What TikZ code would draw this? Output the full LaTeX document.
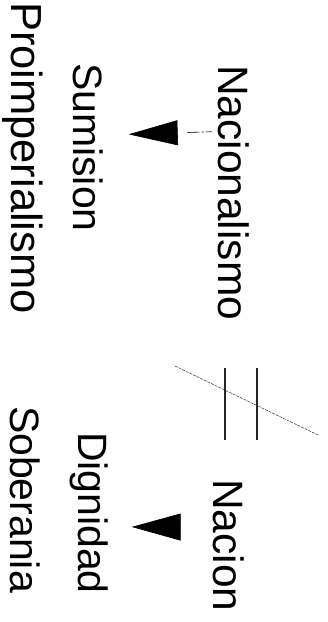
\documentclass[tikz,border=0pt]{standalone}
\usepackage{fontspec}
\setmainfont{Liberation Sans}
\usetikzlibrary{arrows.meta}

\begin{document}
\begin{tikzpicture}[x=1pt, y=1pt,
                    word/.style={rotate=-90, inner sep=0pt, outer sep=0pt, anchor=base west,
                                 font=\fontsize{41}{49}\selectfont},
                    bigword/.style={word, font=\fontsize{42.5}{50}\selectfont},
                    bigtip/.style={-{Triangle[length=49pt, width=25pt]}, line width=0.6pt},
                    slash/.style={line width=0.5pt, black!80, dash pattern=on 3pt off 1pt}]

    \useasboundingbox (0,0) rectangle (328,-622);

    % oberer Block
    \node[bigword] (nacionalismo) at (218,-65) {Nacionalismo};
    \node[word] (sumision)        at (73,-63)  {Sumision};
    \node[word, font=\fontsize{43.5}{52}\selectfont]
                (proimperialismo) at (11,-2)   {Proimperialismo};

    % unterer Block
    \node[bigword] (nacion) at (213,-479) {Nacion};
    \node[word] (dignidad)  at (78,-432)  {Dignidad};
    \node[word] (soberania) at (10,-406)  {Soberania};

    % Pfeile nach links
    \draw[bigtip, shorten <=6pt, dash pattern=on 6pt off 2pt on 2pt off 2pt on 12pt off 30pt]
        ([yshift=61pt]nacionalismo.south) -- ([xshift=26pt, yshift=13pt]sumision.north);
    \draw[bigtip, -{Triangle[length=49pt, width=27pt]}, shorten <=32pt]
        ([yshift=18pt]nacion.south) -- ([xshift=24pt, yshift=-14pt]dignidad.north);

    % Ungleichheitszeichen
    \coordinate (eqa) at (225,-368);
    \coordinate (eqb) at (257,-368);
    \draw[line width=1.2pt, black!85] (eqa) -- ++(0,-72);
    \draw[line width=1.2pt, black!85] (eqb) -- ++(0,-72);
    \draw[slash] (175,-366) -- (318,-435);

\end{tikzpicture}
\end{document}
